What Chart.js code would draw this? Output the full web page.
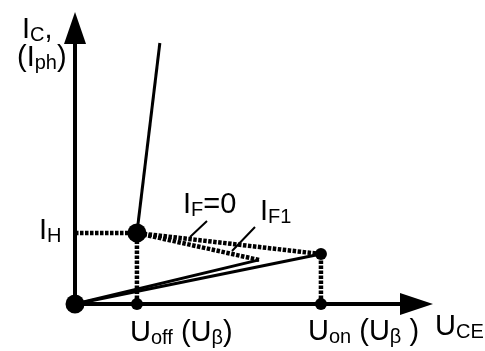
<!DOCTYPE html>
<html>
<head>
<meta charset="utf-8">
<script src="https://cdn.jsdelivr.net/npm/chart.js@4/dist/chart.umd.min.js"></script>
<style>
  html, body { margin: 0; padding: 0; background: #fff; }
  #wrap { width: 485px; height: 351px; }
</style>
</head>
<body>
<div id="wrap"><canvas id="ivChart"></canvas></div>
<script>
// Characteristic points (arbitrary units, axes run 0..10)
const U_OFF = 1.73;
const U_ON = 6.87;
const I_H = 2.43;
const I_ON = 1.71;

// Steep branch above the holding point
const steepX = [U_OFF, 2.37];
const steepY = [I_H, 8.94];

// I_F = 0 curve: rises from the origin, then falls back to the holding point
const if0X = [0, 5.14];
const if0Y = [0, 1.51];
const if0BackX = [5.14, U_OFF];
const if0BackY = [1.51, I_H];

// I_F1 curve
const if1X = [0, U_ON];
const if1Y = [0, I_ON];
const if1BackX = [U_ON, U_OFF];
const if1BackY = [I_ON, I_H];

// Marked points
const bigDotX = [0, U_OFF];
const bigDotY = [0, I_H];
const smallDotX = [U_OFF, U_ON, U_ON];
const smallDotY = [0, I_ON, 0];

const zip = (xs, ys) => xs.map((x, i) => ({ x: x, y: ys[i] }));

const solid = (xs, ys) => ({
  data: zip(xs, ys),
  showLine: true,
  borderColor: "#000",
  borderWidth: 3,
  pointRadius: 0,
  clip: false,
});

const dotted = (xs, ys) => ({
  data: zip(xs, ys),
  showLine: true,
  borderColor: "#000",
  borderWidth: 4.5,
  borderDash: [3.5, 1.5],
  pointRadius: 0,
  clip: false,
});

const FONT = "Liberation Sans, Arial, sans-serif";

// Draws a label with a lowered subscript, e.g. ["U", "off", " (U", "β", ")"]
const drawParts = (ctx, x, y, parts) => {
  let cx = x;
  parts.forEach((p, i) => {
    const sub = i % 2 === 1;
    ctx.font = (sub ? "20px " : "29px ") + FONT;
    ctx.fillText(p, cx, sub ? y + 3 : y);
    cx += ctx.measureText(p).width;
  });
};

const axesPlugin = {
  id: "axesAndLabels",
  beforeDatasetsDraw(chart) {
    const ctx = chart.ctx;
    const xs = chart.scales.x;
    const ys = chart.scales.y;
    const x0 = xs.getPixelForValue(0);
    const y0 = ys.getPixelForValue(0);
    const xEnd = xs.getPixelForValue(10);
    const yEnd = ys.getPixelForValue(10);

    ctx.save();
    ctx.strokeStyle = "#000";
    ctx.fillStyle = "#000";
    ctx.lineWidth = 4;
    ctx.beginPath();
    ctx.moveTo(x0, y0);
    ctx.lineTo(xEnd - 30, y0);
    ctx.moveTo(x0, y0);
    ctx.lineTo(x0, yEnd + 30);
    ctx.stroke();

    // arrow heads
    ctx.beginPath();
    ctx.moveTo(xEnd, y0);
    ctx.lineTo(xEnd - 33, y0 - 11);
    ctx.lineTo(xEnd - 33, y0 + 11);
    ctx.closePath();
    ctx.fill();
    ctx.beginPath();
    ctx.moveTo(x0, yEnd);
    ctx.lineTo(x0 - 11, yEnd + 32);
    ctx.lineTo(x0 + 11, yEnd + 32);
    ctx.closePath();
    ctx.fill();
    ctx.restore();
  },
  afterDatasetsDraw(chart) {
    const ctx = chart.ctx;
    ctx.save();
    ctx.fillStyle = "#000";
    ctx.strokeStyle = "#000";
    ctx.textBaseline = "alphabetic";

    // pointer lines to the curve labels
    ctx.lineWidth = 2;
    ctx.beginPath();
    ctx.moveTo(207, 221);
    ctx.lineTo(190, 237);
    ctx.moveTo(255, 227);
    ctx.lineTo(232, 251);
    ctx.stroke();

    drawParts(ctx, 22, 38, ["I", "C", ","]);
    drawParts(ctx, 17, 66, ["(I", "ph", ")"]);
    drawParts(ctx, 39, 239, ["I", "H"]);
    drawParts(ctx, 183, 213, ["I", "F", "=0"]);
    drawParts(ctx, 260, 220, ["I", "F1"]);
    drawParts(ctx, 130, 341, ["U", "off", " (U", "β", ")"]);
    drawParts(ctx, 308, 340, ["U", "on", " (U", "β", " )"]);
    drawParts(ctx, 435, 335, ["U", "CE"]);
    ctx.restore();
  },
};

new Chart(document.getElementById("ivChart"), {
  type: "scatter",
  data: {
    datasets: [
      solid(steepX, steepY),
      solid(if0X, if0Y),
      dotted(if0BackX, if0BackY),
      solid(if1X, if1Y),
      dotted(if1BackX, if1BackY),
      dotted([0, U_OFF], [I_H, I_H]),
      dotted([U_OFF, U_OFF], [0, I_H]),
      dotted([U_ON, U_ON], [0, I_ON]),
      {
        data: zip(bigDotX, bigDotY),
        pointRadius: 9.5,
        pointBackgroundColor: "#000",
        pointBorderWidth: 0,
        clip: false,
      },
      {
        data: zip(smallDotX, smallDotY),
        pointRadius: 6,
        pointBackgroundColor: "#000",
        pointBorderWidth: 0,
        clip: false,
      },
    ],
  },
  options: {
    responsive: true,
    maintainAspectRatio: false,
    animation: false,
    layout: { padding: { left: 75, right: 52, top: 12, bottom: 47 } },
    scales: {
      x: { type: "linear", min: 0, max: 10, display: false },
      y: { type: "linear", min: 0, max: 10, display: false },
    },
    plugins: {
      legend: { display: false },
      tooltip: { enabled: false },
    },
    events: [],
  },
  plugins: [axesPlugin],
});
</script>
</body>
</html>
